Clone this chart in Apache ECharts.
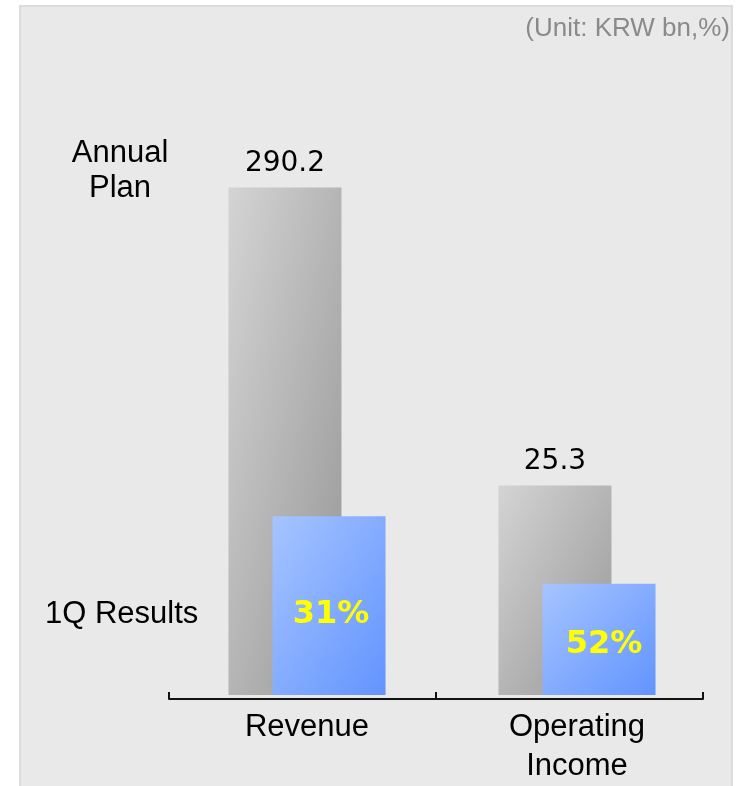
<!DOCTYPE html>
<html>
<head>
<meta charset="utf-8">
<script src="https://cdn.jsdelivr.net/npm/echarts@6/dist/echarts.min.js"></script>
<style>
html,body{margin:0;padding:0;background:#ffffff;}
#chart{width:741px;height:786px;}
</style>
</head>
<body>
<div id="chart"></div>
<script>
// ---- data ----
const categories = ['Revenue', 'Operating\nIncome'];
const planValues = [290.2, 25.3];          // annual plan, KRW bn (labels)
const resultPct = [31, 52];                // 1Q achievement, %
const planBarHeight = [102.2, 42.2];       // drawn bar heights (schematic, relative units)
const resultBarHeight = [36.0, 22.4];      // drawn bar heights (schematic, relative units)
const yMax = 120;

// ---- layout ----
const W = 741, H = 786;
const gridTop = 99, gridBottom = 87;
const barWidth = 113;
const pxPerUnit = (H - gridTop - gridBottom) / yMax;

// shape-scaled diagonal gradient (top-left -> bottom-right, isolines parallel to anti-diagonal)
function diagGrad(hUnits, c0, c1) {
  const w = barWidth, h = hUnits * pxPerUnit;
  const s = h * h + w * w;
  const gx = 2 * h * h / s, gy = 2 * w * w / s;
  return new echarts.graphic.LinearGradient(0, 0, gx, gy, [
    {offset: 0, color: c0},
    {offset: 1, color: c1}
  ]);
}

const chart = echarts.init(document.getElementById('chart'), null, {renderer: 'canvas'});

const labelOffsets = [[2, 9], [5, 5]];

const option = {
  backgroundColor: '#ffffff',
  animation: false,
  graphic: [
    {type: 'rect', z: -10, shape: {x: 20, y: 6, width: 712, height: 790},
     style: {fill: '#e9e9e9', stroke: '#dcdcdc', lineWidth: 2}},
    {type: 'text', right: 11, top: 16, z: 10,
     style: {text: '(Unit: KRW bn,%)', fill: '#8a8a8a', font: '26px "Liberation Sans", Arial, sans-serif', textAlign: 'right'}},
    {type: 'text', x: 120, y: 171, z: 10,
     style: {text: 'Annual\nPlan', fill: '#000', font: '31px "Liberation Sans", Arial, sans-serif', textAlign: 'center', textVerticalAlign: 'middle', lineHeight: 35}},
    {type: 'text', x: 45, y: 614, z: 10,
     style: {text: '1Q Results', fill: '#000', font: '31px "Liberation Sans", Arial, sans-serif', textAlign: 'left', textVerticalAlign: 'middle'}}
  ],
  grid: [
    {left: 169, right: 38, top: gridTop, bottom: gridBottom},
    {left: 172, right: 29, top: gridTop, bottom: gridBottom}
  ],
  xAxis: [
    {type: 'category', gridIndex: 0, data: categories,
     axisLine: {show: true, lineStyle: {color: '#111', width: 2}},
     axisTick: {show: true, inside: true, length: 7, lineStyle: {color: '#111', width: 2}},
     axisLabel: {show: false}},
    {type: 'category', gridIndex: 1, data: categories,
     axisLine: {show: false}, axisTick: {show: false},
     axisLabel: {show: true, color: '#000', fontSize: 31, fontFamily: '"Liberation Sans", Arial, sans-serif', margin: 13, lineHeight: 39}}
  ],
  yAxis: [
    {type: 'value', gridIndex: 0, min: 0, max: yMax, show: false},
    {type: 'value', gridIndex: 1, min: 0, max: yMax, show: false}
  ],
  series: [
    {type: 'bar', name: 'Annual Plan', xAxisIndex: 1, yAxisIndex: 1,
     data: planBarHeight.map(v => ({value: v, itemStyle: {color: diagGrad(v, '#d4d4d4', '#969696')}})),
     barWidth: barWidth, barGap: '-61%',
     label: {show: true, position: 'top', distance: 10, color: '#000', fontSize: 28,
             fontFamily: '"DejaVu Sans", Verdana, sans-serif',
             formatter: p => planValues[p.dataIndex].toFixed(1)}},
    {type: 'bar', name: '1Q Results', xAxisIndex: 1, yAxisIndex: 1,
     data: resultBarHeight.map((v, i) => ({value: v,
       itemStyle: {color: diagGrad(v, '#a6c4ff', '#6294ff')},
       label: {offset: labelOffsets[i]}})),
     barWidth: barWidth,
     label: {show: true, position: 'inside', color: '#ffff00', fontSize: 32, fontWeight: 'bold',
             fontFamily: '"DejaVu Sans", Verdana, sans-serif',
             formatter: p => resultPct[p.dataIndex] + '%'}}
  ]
};
chart.setOption(option);
</script>
</body>
</html>
